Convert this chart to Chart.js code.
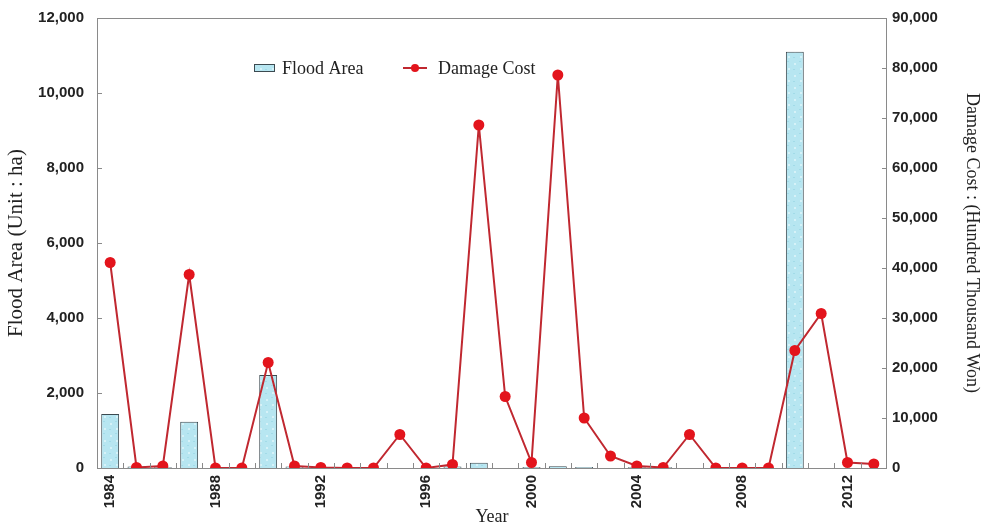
<!DOCTYPE html>
<html>
<head>
<meta charset="utf-8">
<title>Flood Area and Damage Cost</title>
<script src="https://cdn.jsdelivr.net/npm/chart.js@4/dist/chart.umd.min.js"></script>
<style>
  html, body { margin: 0; padding: 0; background: #fff; }
  #wrap { width: 986px; height: 528px; position: relative; }
</style>
</head>
<body>
<div id="wrap"><canvas id="chart"></canvas></div>
<script>
// ── Data ─────────────────────────────────────────────────────
const years = [
  1984, 1985, 1986, 1987, 1988, 1989, 1990, 1991, 1992, 1993,
  1994, 1995, 1996, 1997, 1998, 1999, 2000, 2001, 2002, 2003,
  2004, 2005, 2006, 2007, 2008, 2009, 2010, 2011, 2012, 2013,
]
// Flood area (ha) — left axis
const floodArea = [
  1440, 40, 20, 1235, 0, 0, 2480, 40, 0, 0,
  0, 0, 0, 40, 140, 0, 30, 50, 30, 0,
  20, 20, 0, 0, 0, 0, 11100, 0, 0, 0,
]
// Damage cost (hundred thousand won) — right axis
const damageCost = [
  41100, 100, 400, 38700, 0, 0, 21100, 400, 100, 0,
  0, 6700, 0, 700, 68600, 14300, 1100, 78600, 10000, 2400,
  400, 100, 6700, 0, 0, 0, 23500, 30900, 1100, 800,
]
const leftTicks = [0, 2000, 4000, 6000, 8000, 10000, 12000]
const rightTicks = [0, 10000, 20000, 30000, 40000, 50000, 60000, 70000, 80000, 90000]

// ── Styles ───────────────────────────────────────────────────
const tickFont = { family: 'Liberation Sans, Arial, sans-serif', size: 15, weight: 'bold' }
const titleFont = { family: 'Liberation Serif, Times New Roman, serif', size: 18 }
const axisColor = '#8a8a8a'
const lineColor = '#c02830'
const pointColor = '#e3141c'
const barBorder = '#3c4a50'

// light cyan fill with a faint speckle, like the printed hatching
function barPattern() {
  const c = document.createElement('canvas')
  c.width = 12
  c.height = 12
  const g = c.getContext('2d')
  g.fillStyle = '#b7e6f1'
  g.fillRect(0, 0, 12, 12)
  g.fillStyle = '#d6f2f8'
  g.fillRect(2, 3, 2, 2)
  g.fillRect(8, 8, 2, 2)
  g.fillStyle = '#a2dbe8'
  g.fillRect(7, 1, 2, 1)
  g.fillRect(1, 9, 2, 1)
  return g.createPattern(c, 'repeat')
}
const barFill = barPattern()

// ── Plugins: frame with inward ticks, in-plot legend ─────────
const frame = {
  id: 'frame',
  afterDatasetsDraw(chart) {
    const { ctx, chartArea: a, scales } = chart
    ctx.save()
    ctx.strokeStyle = axisColor
    ctx.lineWidth = 1
    ctx.strokeRect(a.left + 0.5, a.top + 0.5, a.right - a.left - 1, a.bottom - a.top)
    ctx.beginPath()
    scales.y.ticks.forEach((t, i) => {
      const py = Math.round(scales.y.getPixelForTick(i)) + 0.5
      ctx.moveTo(a.left, py)
      ctx.lineTo(a.left + 5, py)
    })
    scales.y1.ticks.forEach((t, i) => {
      const py = Math.round(scales.y1.getPixelForTick(i)) + 0.5
      ctx.moveTo(a.right, py)
      ctx.lineTo(a.right - 5, py)
    })
    const n = scales.x.ticks.length
    for (let i = 0; i < n - 1; i++) {
      const px = Math.round((scales.x.getPixelForTick(i) + scales.x.getPixelForTick(i + 1)) / 2) + 0.5
      ctx.moveTo(px, a.bottom)
      ctx.lineTo(px, a.bottom - 5)
    }
    ctx.stroke()
    ctx.restore()
  },
}

const plotLegend = {
  id: 'plotLegend',
  afterDraw(chart) {
    const { ctx, chartArea: a } = chart
    const y = a.top + 50
    const x0 = a.left + 157
    ctx.save()
    ctx.font = `${titleFont.size}px ${titleFont.family}`
    ctx.textBaseline = 'middle'
    // Flood Area swatch
    ctx.fillStyle = barFill
    ctx.fillRect(x0, y - 4, 21, 8)
    ctx.strokeStyle = barBorder
    ctx.lineWidth = 1
    ctx.strokeRect(x0 + 0.5, y - 3.5, 20, 7)
    ctx.fillStyle = '#222'
    ctx.fillText('Flood Area', x0 + 28, y + 1)
    // Damage Cost swatch
    const x1 = x0 + 149
    ctx.strokeStyle = lineColor
    ctx.lineWidth = 2
    ctx.beginPath()
    ctx.moveTo(x1, y)
    ctx.lineTo(x1 + 24, y)
    ctx.stroke()
    ctx.fillStyle = pointColor
    ctx.beginPath()
    ctx.arc(x1 + 12, y, 4, 0, Math.PI * 2)
    ctx.fill()
    ctx.fillStyle = '#222'
    ctx.fillText('Damage Cost', x1 + 35, y + 1)
    ctx.restore()
  },
}

// ── Chart ────────────────────────────────────────────────────
new Chart(document.getElementById('chart'), {
  data: {
    labels: years,
    datasets: [
      {
        type: 'line',
        label: 'Damage Cost',
        data: damageCost,
        yAxisID: 'y1',
        borderColor: lineColor,
        borderWidth: 2,
        pointRadius: 5.5,
        pointBackgroundColor: pointColor,
        pointBorderColor: pointColor,
        pointBorderWidth: 0,
        tension: 0,
        order: 0,
      },
      {
        type: 'bar',
        label: 'Flood Area',
        data: floodArea,
        yAxisID: 'y',
        backgroundColor: barFill,
        borderColor: barBorder,
        borderWidth: 1,
        categoryPercentage: 0.8,
        barPercentage: 0.85,
        order: 1,
      },
    ],
  },
  options: {
    responsive: true,
    maintainAspectRatio: false,
    animation: false,
    layout: { padding: { top: 18, left: 0, right: 0, bottom: 0 } },
    plugins: {
      legend: { display: false },
      tooltip: { enabled: false },
    },
    scales: {
      x: {
        type: 'category',
        offset: true,
        grid: { display: false, drawTicks: false },
        border: { display: false },
        ticks: {
          autoSkip: false,
          minRotation: 90,
          maxRotation: 90,
          padding: 7,
          color: '#222',
          font: tickFont,
          callback: (v, i) => ((years[i] - 1984) % 4 === 0 ? String(years[i]) : ''),
        },
        title: { display: true, text: 'Year', color: '#222', font: titleFont, padding: { top: 0, bottom: 0 } },
        afterFit: (s) => {
          s.height = 60
          s.paddingLeft = 0
          s.paddingRight = 0
        },
      },
      y: {
        position: 'left',
        min: 0,
        max: 12000,
        afterBuildTicks: (s) => { s.ticks = leftTicks.map((v) => ({ value: v })) },
        grid: { display: false, drawTicks: false },
        border: { display: false },
        ticks: {
          padding: 13,
          color: '#222',
          font: tickFont,
          callback: (v) => v.toLocaleString('en-US'),
        },
        title: {
          display: true,
          text: 'Flood Area (Unit : ha)',
          color: '#222',
          font: { family: titleFont.family, size: 21 },
          padding: { top: 4, bottom: 0 },
        },
        afterFit: (s) => {
          s.width = 97
          s.paddingTop = 0
          s.paddingBottom = 0
        },
      },
      y1: {
        position: 'right',
        min: 0,
        max: 90000,
        afterBuildTicks: (s) => { s.ticks = rightTicks.map((v) => ({ value: v })) },
        grid: { display: false, drawTicks: false },
        border: { display: false },
        ticks: {
          padding: 5,
          color: '#222',
          font: tickFont,
          callback: (v) => v.toLocaleString('en-US'),
        },
        title: { display: true, text: 'Damage Cost : (Hundred Thousand Won)', color: '#222', font: titleFont, padding: { top: 3, bottom: 0 } },
        afterFit: (s) => {
          s.width = 99
          s.paddingTop = 0
          s.paddingBottom = 0
        },
      },
    },
  },
  plugins: [frame, plotLegend],
})
</script>
</body>
</html>
